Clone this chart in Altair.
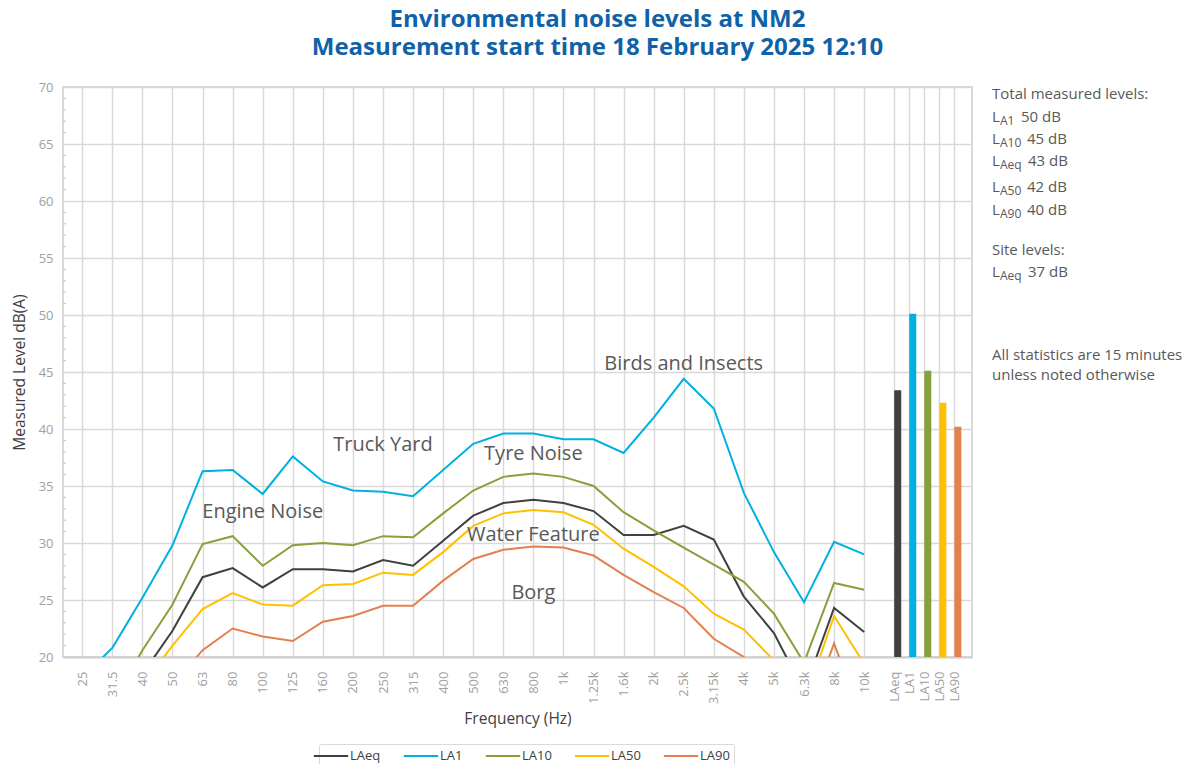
import json
import altair as alt
import pandas as pd

# ---------------- data ----------------
freqs = ["25", "31.5", "40", "50", "63", "80", "100", "125", "160", "200", "250", "315",
         "400", "500", "630", "800", "1k", "1.25k", "1.6k", "2k", "2.5k", "3.15k", "4k",
         "5k", "6.3k", "8k", "10k"]

laeq = [12.0, 15.0, 18.5, 22.3, 27.0, 27.8, 26.1, 27.7, 27.7, 27.5, 28.5, 28.0, 30.2, 32.4,
        33.5, 33.8, 33.5, 32.8, 30.7, 30.7, 31.5, 30.3, 25.3, 22.1, 17.0, 24.3, 22.2]
la1 = [18.2, 20.8, 25.2, 29.8, 36.3, 36.4, 34.3, 37.6, 35.4, 34.6, 34.5, 34.1, 36.4, 38.7,
       39.6, 39.6, 39.1, 39.1, 37.9, 41.0, 44.4, 41.8, 34.4, 29.2, 24.8, 30.1, 29.0]
la10 = [12.5, 16.0, 20.6, 24.6, 29.9, 30.6, 28.0, 29.8, 30.0, 29.8, 30.6, 30.5, 32.6, 34.6,
        35.8, 36.1, 35.8, 35.0, 32.7, 31.1, 29.6, 28.1, 26.6, 23.8, 19.5, 26.5, 25.9]
la50 = [10.0, 13.5, 17.5, 21.0, 24.2, 25.6, 24.6, 24.5, 26.3, 26.4, 27.4, 27.2, 29.2, 31.5,
        32.6, 32.9, 32.7, 31.6, 29.5, 27.9, 26.2, 23.8, 22.4, 19.7, 16.0, 23.6, 19.4]
la90 = [8.0, 11.0, 14.5, 17.5, 20.6, 22.5, 21.8, 21.4, 23.1, 23.6, 24.5, 24.5, 26.7, 28.6,
        29.4, 29.7, 29.6, 28.9, 27.2, 25.7, 24.3, 21.6, 20.0, 17.5, 14.0, 21.2, 14.0]

series_names = ["LAeq", "LA1", "LA10", "LA50", "LA90"]
series_values = [laeq, la1, la10, la50, la90]
series_colors = ["#404040", "#00B0E0", "#86A03C", "#FFC000", "#E2804F"]

stat_names = ["LAeq", "LA1", "LA10", "LA50", "LA90"]
stat_values = [43.4, 50.1, 45.1, 42.3, 40.2]

annotations = ["Engine Noise", "Truck Yard", "Tyre Noise", "Birds and Insects",
               "Water Feature", "Borg"]
annotation_freq = ["100", "250", "800", "2.5k", "800", "800"]
annotation_level = [32.7, 38.6, 37.8, 45.7, 30.7, 25.6]

total_subs = ["A1", "A10", "Aeq", "A50", "A90"]
total_vals = ["50 dB", "45 dB", "43 dB", "42 dB", "40 dB"]
site_subs = ["Aeq"]
site_vals = ["37 dB"]

title_lines = ["Environmental noise levels at NM2",
               "Measurement start time 18 February 2025 12:10"]

# ---------------- layout ----------------
FONT = "Open Sans"
W, H = 909, 570
freq_pos = {f: i for i, f in enumerate(freqs)}
stat_pos = [len(freqs) + 0.5 * j for j in range(len(stat_names))]
tick_pos = list(range(len(freqs))) + stat_pos
tick_lab = freqs + stat_names

rows = []
for name, vals in zip(series_names, series_values):
    for f, v in zip(freqs, vals):
        rows.append({"series": name, "pos": freq_pos[f], "level": v})
line_df = pd.DataFrame(rows)
bar_df = pd.DataFrame({"series": stat_names, "pos": stat_pos, "level": stat_values})
ann_df = pd.DataFrame({"text": annotations,
                       "pos": [freq_pos[f] for f in annotation_freq],
                       "level": annotation_level})
minor_df = pd.DataFrame({"level": [v for v in range(21, 70) if v % 5]})

xscale = alt.Scale(domain=[-0.475, 29.42], nice=False, zero=False)
yscale = alt.Scale(domain=[20, 70], nice=False, zero=False)
cscale = alt.Scale(domain=series_names, range=series_colors)

label_expr = f"{json.dumps(tick_lab)}[indexof({json.dumps(tick_pos)}, datum.value)]"
xaxis = alt.Axis(values=tick_pos, labelExpr=label_expr, labelAngle=270, labelAlign="right",
                 labelBaseline="middle", labelPadding=14, labelOverlap=False, labelFlush=False,
                 labelBound=False, ticks=False, grid=True, title="Frequency (Hz)",
                 titlePadding=8, domainColor="#D0D0D0", domainWidth=2)
yaxis = alt.Axis(values=list(range(20, 71, 5)), ticks=False, grid=True, labelPadding=10,
                 title="Measured Level dB(A)", titlePadding=11, domain=False)

X = alt.X("pos:Q", scale=xscale, axis=xaxis)
Y = alt.Y("level:Q", scale=yscale, axis=yaxis)

lines = alt.Chart(line_df).mark_line(clip=True, strokeWidth=2).encode(
    x=X, y=Y,
    color=alt.Color("series:N", scale=cscale, sort=series_names,
                    legend=alt.Legend(title=None, orient="none", legendX=256, legendY=657,
                                      direction="horizontal", columns=5,
                                      symbolType="M-2.45,0L2.45,0", symbolSize=196,
                                      symbolStrokeWidth=2, labelFont=FONT, labelFontSize=13,
                                      labelColor="#404040", labelOffset=11, columnPadding=18,
                                      padding=4, strokeColor="#D9D9D9", cornerRadius=2)),
    order=alt.Order("pos:Q"),
)

bars = alt.Chart(bar_df).mark_bar(size=7, xOffset=3.5, clip=True).encode(
    x=X, y=Y, color=alt.Color("series:N", scale=cscale, legend=None))

minor = alt.Chart(minor_df).mark_rule(color="#BFBFBF", strokeWidth=1).encode(
    y=Y, x=alt.value(0), x2=alt.value(3))

ann = alt.Chart(ann_df).mark_text(font=FONT, fontSize=20, color="#595959", align="center",
                                  baseline="middle").encode(x=X, y=Y, text="text:N")

note_layers = []
NX, SX = 929, 937
GREY = "#595959"


def note(txt, x, y, size=15):
    return alt.Chart(pd.DataFrame({"t": [txt]})).mark_text(
        font=FONT, fontSize=size, color=GREY, align="left", baseline="middle").encode(
        x=alt.value(x), y=alt.value(y), text="t:N")


note_layers.append(note("Total measured levels:", NX, 7))
total_y = [30, 52, 74, 100, 123]
val_x = [958, 964, 965, 964, 964]
for s, v, yy, vx in zip(total_subs, total_vals, total_y, val_x):
    note_layers += [note("L", NX, yy), note(s, SX, yy + 4, 12), note(v, vx, yy)]
note_layers.append(note("Site levels:", NX, 163))
for s, v in zip(site_subs, site_vals):
    note_layers += [note("L", NX, 185), note(s, SX, 189, 12), note(v, 965, 185)]
note_layers.append(note("All statistics are 15 minutes", NX, 268))
note_layers.append(note("unless noted otherwise", NX, 288))

chart = alt.layer(lines, bars, minor, ann, *note_layers).properties(
    width=W, height=H,
    autosize=alt.AutoSizeParams(type="none"),
    padding={"left": 55, "top": 79, "right": 214, "bottom": 107},
    title=alt.TitleParams(text=title_lines, font=FONT, fontSize=24, fontWeight="bold",
                          color="#0F62A8", anchor="middle", dx=80, offset=21, lineHeight=28),
).configure_view(stroke="#D9D9D9", strokeWidth=2).configure_axis(
    labelFont=FONT, labelFontSize=13, labelColor="#A0A0A0", titleFont=FONT,
    titleFontSize=15.5, titleColor="#404040", titleFontWeight="normal",
    gridColor="#D9D9D9", gridWidth=1.5)

chart.save("out.html", embed_options={"renderer": "svg", "actions": False})
